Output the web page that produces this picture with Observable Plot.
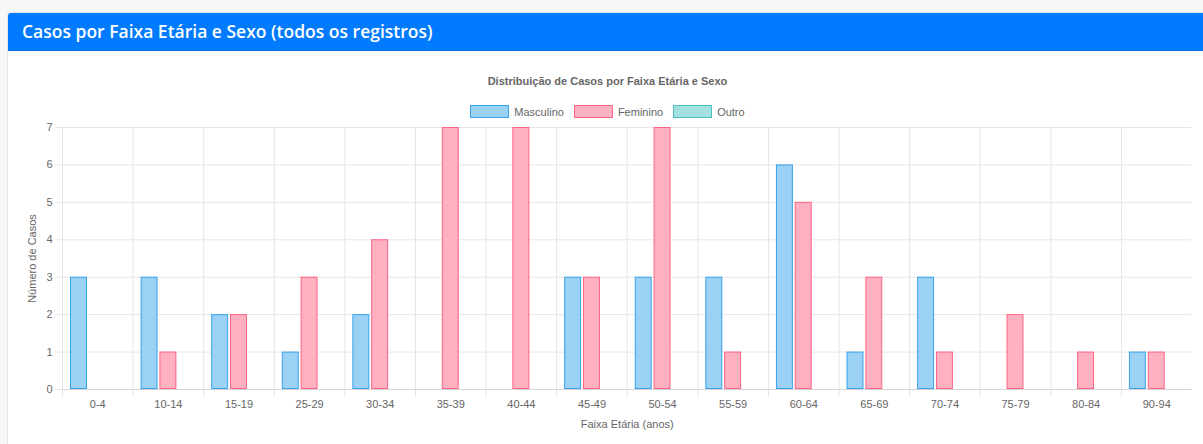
<!DOCTYPE html>
<html>
<head>
<meta charset="utf-8">
<script src="https://cdn.jsdelivr.net/npm/d3@7"></script>
<script src="https://cdn.jsdelivr.net/npm/@observablehq/plot@0.6"></script>
<style>
  body { margin: 0; background: #f6f7f9; width: 1203px; height: 444px; overflow: hidden; position: relative; font-family: "Liberation Sans", Arial, sans-serif; }
  .card { position: absolute; left: 7px; top: 12px; width: 1210px; height: 460px; background: #fff; border: 1px solid rgba(0,0,0,0.1); border-radius: 4px; overflow: hidden; }
  .hdr { height: 37px; background: #007bff; border-bottom: 1px solid rgba(0,0,0,0.12); color: #fff; font-family: "Open Sans", sans-serif; font-weight: 600; font-size: 17.5px; line-height: 37px; padding-left: 14px; }
  .ctitle { position: absolute; left: 0; width: 1215px; top: 75px; text-align: center; font-size: 11px; font-weight: bold; color: #666; }
  .legend { position: absolute; left: 0; width: 1215px; top: 105px; display: flex; justify-content: center; font-size: 11px; color: #666; }
  .legend span.item { display: inline-flex; align-items: center; margin: 0 5px; }
  .legend span.sw { display: inline-block; width: 37px; height: 11px; margin-right: 5px; border: 1px solid; }
  #chart { position: absolute; left: 0; top: 120px; }
</style>
</head>
<body>
<div class="card"><div class="hdr">Casos por Faixa Etária e Sexo (todos os registros)</div></div>
<div class="ctitle">Distribuição de Casos por Faixa Etária e Sexo</div>
<div class="legend" id="legend"></div>
<div id="chart"></div>
<script>
const ages = ["0-4","10-14","15-19","25-29","30-34","35-39","40-44","45-49","50-54","55-59","60-64","65-69","70-74","75-79","80-84","90-94"];
const masculino = [3,3,2,1,2,0,0,3,3,3,6,1,3,0,0,1];
const feminino  = [0,1,2,3,4,7,7,3,7,1,5,3,1,2,1,1];
const outro     = [0,0,0,0,0,0,0,0,0,0,0,0,0,0,0,0];
const sexes = ["Masculino","Feminino","Outro"];
const fills = ["#9bd1f5","#ffb1c2","#a5e0e0"];
const strokes = ["#36a2eb","#ff6384","#4bc0c0"];
const yTicks = [0,1,2,3,4,5,6,7];

const series = [masculino, feminino, outro];
const rows = ages.flatMap((a, i) => sexes.map((s, k) => ({age: a, sex: s, n: series[k][i]})));

const legend = document.getElementById("legend");
sexes.forEach((s, k) => {
  const it = document.createElement("span");
  it.className = "item";
  it.innerHTML = `<span class="sw" style="background:${fills[k]};border-color:${strokes[k]}"></span>${s}`;
  legend.appendChild(it);
});

const grid = "#e6e6e6";
const plot = Plot.plot({
  width: 1203,
  height: 324,
  marginTop: 7,
  marginBottom: 55,
  marginLeft: 62,
  marginRight: 11.5,
  style: {fontFamily: "'Liberation Sans', Arial, sans-serif", fontSize: "11px", color: "#666", background: "transparent"},
  fx: {domain: ages, padding: 0, round: false, label: "Faixa Etária (anos)"},
  x: {domain: sexes, paddingInner: 0.1, paddingOuter: 0.425, round: false, axis: null},
  y: {domain: [0, 7], label: "Número de Casos", labelArrow: "none"},
  color: {domain: sexes, range: fills},
  marks: [
    Plot.gridY(yTicks, {stroke: grid, strokeOpacity: 1}),
    Plot.frame({anchor: "left", stroke: grid, insetBottom: -7}),
    Plot.barY(rows, {fx: "age", x: "sex", y: "n", fill: "sex", filter: d => d.n > 0,
      stroke: d => strokes[sexes.indexOf(d.sex)], strokeWidth: 1, inset: 0.5}),
    Plot.ruleY([0], {stroke: "#d4d4d4"}),
    Plot.axisY(yTicks, {tickSize: 7, tickPadding: 3, stroke: grid, fill: "#666", tickFormat: d => d,
      label: "Número de Casos", labelArrow: "none", labelAnchor: "center", labelOffset: 34}),
    Plot.axisFx({anchor: "bottom", tickSize: 0, tickPadding: 11, fill: "#666", label: "Faixa Etária (anos)", labelAnchor: "center", labelOffset: 38})
  ]
});
document.getElementById("chart").appendChild(plot);
</script>
</body>
</html>
